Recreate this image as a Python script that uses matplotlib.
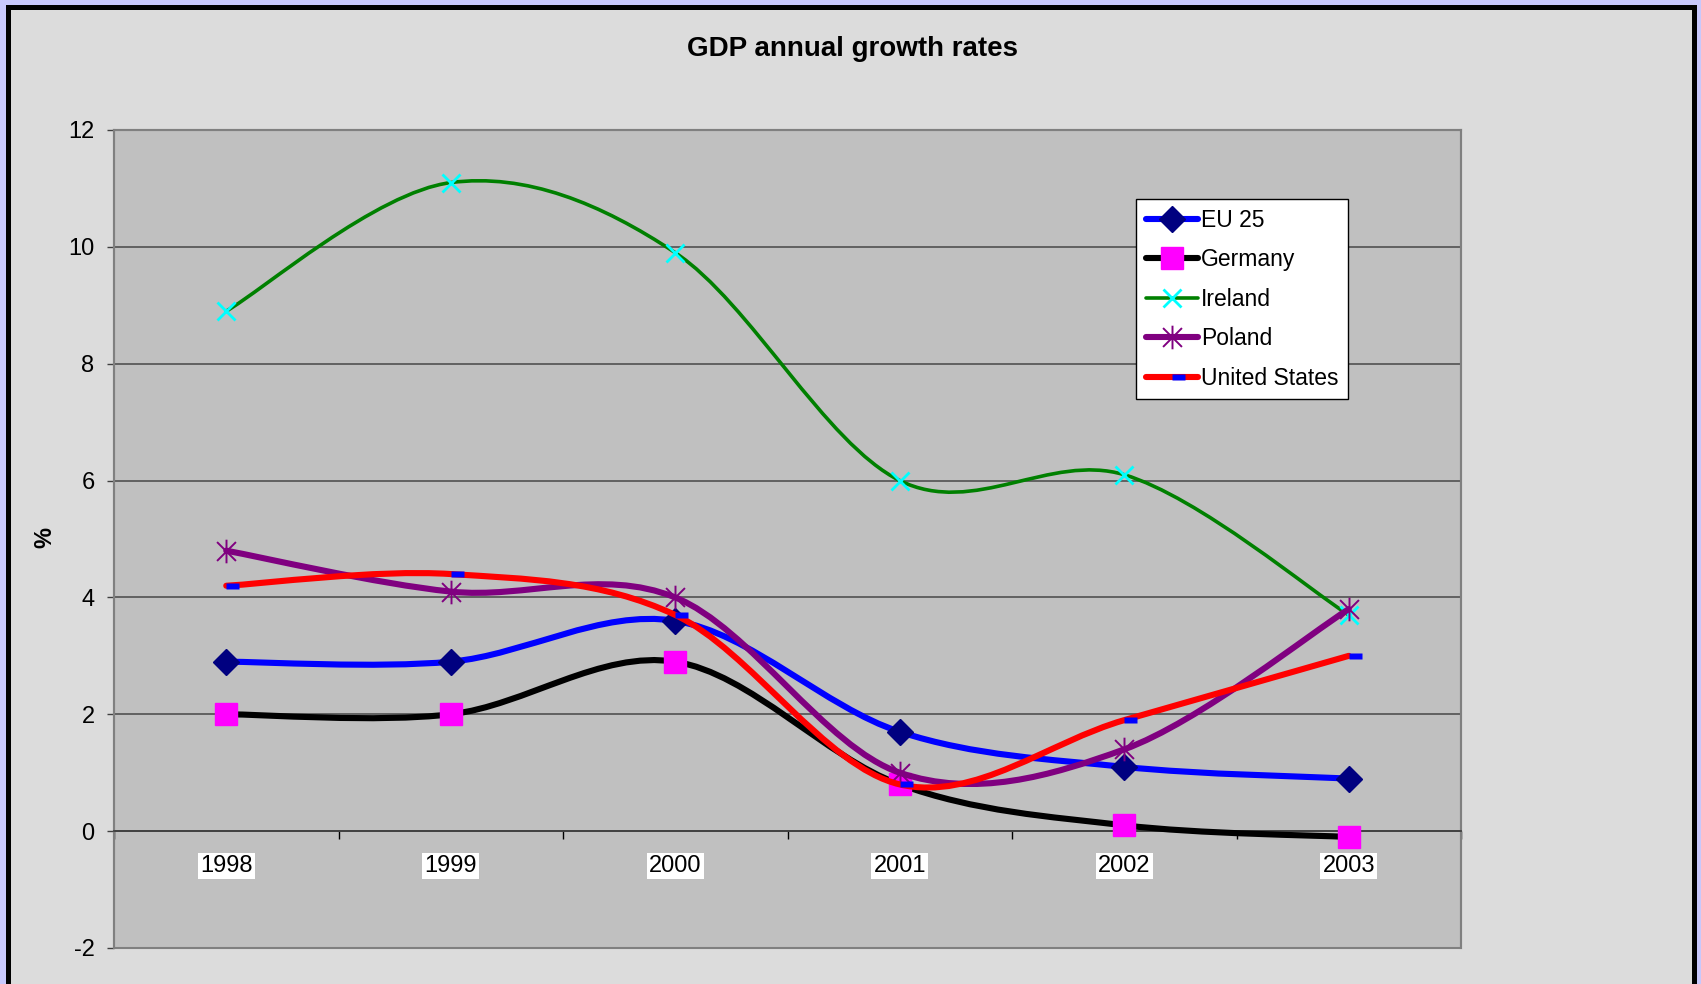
import matplotlib
matplotlib.use("Agg")
import matplotlib.pyplot as plt
from matplotlib.path import Path
from matplotlib.patches import PathPatch, Rectangle
from matplotlib.lines import Line2D

plt.rcParams['font.family'] = ['Liberation Sans', 'DejaVu Sans']
plt.rcParams['axes.unicode_minus'] = False

years = ["1998", "1999", "2000", "2001", "2002", "2003"]
eu25 = [2.9, 2.9, 3.6, 1.7, 1.1, 0.9]
germany = [2.0, 2.0, 2.9, 0.8, 0.1, -0.1]
ireland = [8.9, 11.1, 9.9, 6.0, 6.1, 3.7]
poland = [4.8, 4.1, 4.0, 1.0, 1.4, 3.8]
united_states = [4.2, 4.4, 3.7, 0.8, 1.9, 3.0]

# US marker: short blue dash sitting to the right of the point
dash = Path([(0, -0.25), (1, -0.25), (1, 0.25), (0, 0.25), (0, -0.25)],
            [Path.MOVETO, Path.LINETO, Path.LINETO, Path.LINETO, Path.CLOSEPOLY])
# Poland marker: x with a vertical bar
star = Path([(-0.8, -0.8), (0.8, 0.8), (-0.8, 0.8), (0.8, -0.8), (0, -1), (0, 1)],
            [Path.MOVETO, Path.LINETO, Path.MOVETO, Path.LINETO, Path.MOVETO, Path.LINETO])

series = [
    ("EU 25", eu25, "#0000ff", 4.4, dict(marker="D", ms=13, mfc="#000080", mec="#000080")),
    ("Germany", germany, "#000000", 4.4, dict(marker="s", ms=16, mfc="#ff00ff", mec="#ff00ff")),
    ("Ireland", ireland, "#008000", 2.6, dict(marker="x", ms=13, mew=2.0, mec="#00ffff")),
    ("Poland", poland, "#800080", 4.4, dict(marker=star, ms=17, mew=1.4, mfc="none", mec="#800080")),
    ("United States", united_states, "#ff0000", 4.4, dict(marker=dash, ms=19, mfc="#0000ff", mec="none")),
]


def smooth_path(xs, ys):
    # Excel-style smoothed line as cubic bezier segments
    pts = list(zip(xs, ys))
    n = len(pts)
    verts = [pts[0]]
    codes = [Path.MOVETO]
    for i in range(n - 1):
        p0 = pts[i - 1] if i > 0 else pts[i]
        p1 = pts[i]
        p2 = pts[i + 1]
        p3 = pts[i + 2] if i + 2 < n else pts[i + 1]
        c1 = (p1[0] + (p2[0] - p0[0]) / 6, p1[1] + (p2[1] - p0[1]) / 6)
        c2 = (p2[0] - (p3[0] - p1[0]) / 6, p2[1] - (p3[1] - p1[1]) / 6)
        verts += [c1, c2, p2]
        codes += [Path.CURVE4] * 3
    return Path(verts, codes)


fig = plt.figure(figsize=(17.01, 9.84), dpi=100)
fig.patch.set_facecolor("#c8c8fc")
fig.add_artist(Rectangle((7.5 / 1701, -0.05), 1686 / 1701, 1.05 - 7 / 984,
                         transform=fig.transFigure, facecolor="#dcdcdc",
                         edgecolor="black", linewidth=3.6, zorder=0))

ax = fig.add_axes([114 / 1701, 36 / 984, 1347 / 1701, 818 / 984])
ax.set_facecolor("#c0c0c0")
ax.set_xlim(0, len(years))
ax.set_ylim(-2, 12)

x = [i + 0.5 for i in range(len(years))]
handles = []
for k, (name, vals, color, lw, mk) in enumerate(series):
    patch = PathPatch(smooth_path(x, vals), fill=False, edgecolor=color, lw=lw,
                      capstyle="round", joinstyle="round", zorder=3 + 2 * k)
    ax.add_patch(patch)
    ax.plot(x, vals, linestyle="none", zorder=4 + 2 * k, **mk)
    handles.append(Line2D([], [], color=color, lw=lw, solid_capstyle="round", **mk))

# grid and frame
ax.set_yticks(range(-2, 13, 2))
ax.yaxis.grid(True, color="#5a5a5a", lw=1.3)
ax.set_axisbelow(True)
for s in ["top", "right", "left"]:
    ax.spines[s].set_color("#808080")
    ax.spines[s].set_linewidth(1.5)
ax.spines["bottom"].set_position(("data", 0))
ax.spines["bottom"].set_color("#404040")
ax.spines["bottom"].set_linewidth(1.3)
ax.add_patch(Rectangle((0, 0), 1, 1, transform=ax.transAxes, fill=False,
                       edgecolor="#808080", lw=1.5, zorder=2, clip_on=False))

ax.tick_params(axis="y", direction="out", length=5, width=1, color="#404040",
               labelsize=17, pad=9)
ax.set_xticks(range(0, len(years) + 1))
ax.set_xticklabels([])
ax.tick_params(axis="x", which="major", direction="out", length=6, width=1, color="#000000")
ax.set_xticks(x, years, minor=True)
ax.tick_params(axis="x", which="minor", length=0, pad=17, labelsize=17)
for lbl in ax.get_xticklabels(minor=True):
    lbl.set_bbox(dict(facecolor="white", edgecolor="none", pad=1.5))

fig.text(852 / 1701, 1 - 49 / 984, "GDP annual growth rates", ha="center", va="center",
         fontsize=20, fontweight="bold")
fig.text(45 / 1701, 1 - 537 / 984, "%", rotation=90, ha="center", va="center",
         fontsize=17, fontweight="bold")

leg = ax.legend(handles, [s[0] for s in series], loc="upper left",
                bbox_to_anchor=(1136 / 1701, 1 - 199 / 984), bbox_transform=fig.transFigure,
                fontsize=16.5, frameon=True, fancybox=False, numpoints=1,
                handlelength=2.3, handletextpad=0.12, labelspacing=0.72,
                borderpad=0.42, borderaxespad=0)
leg.get_frame().set_edgecolor("black")
leg.get_frame().set_linewidth(1.0)
leg.get_frame().set_facecolor("white")
leg.get_frame().set_alpha(1)
leg.set_zorder(20)

fig.savefig("out.png", dpi=100, facecolor=fig.get_facecolor())
